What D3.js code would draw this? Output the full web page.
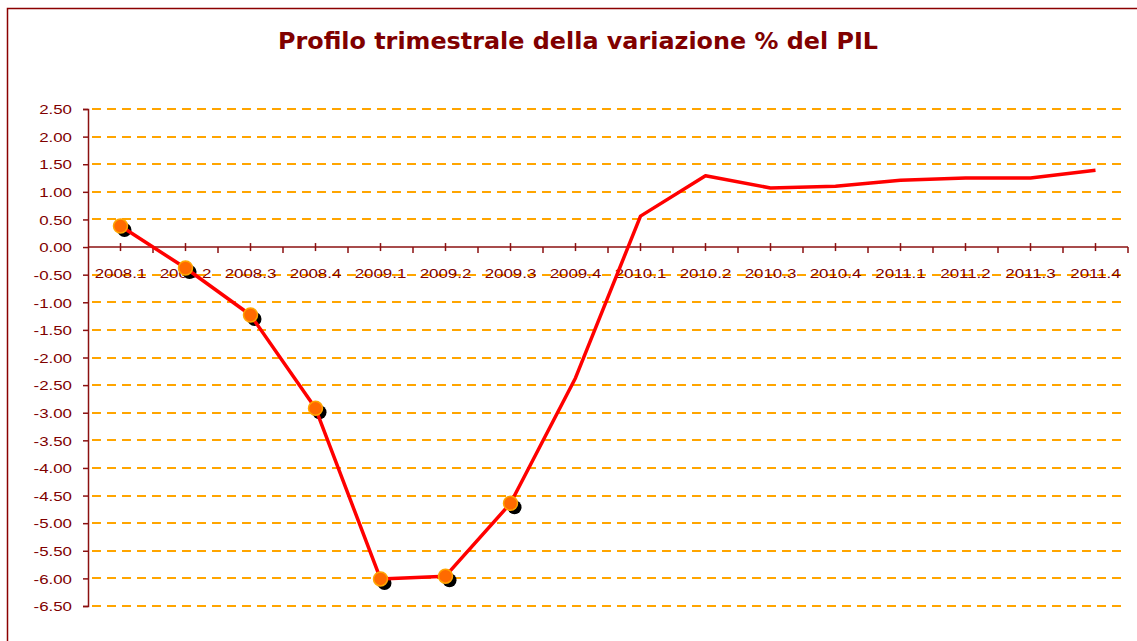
<!DOCTYPE html>
<html>
<head>
<meta charset="utf-8">
<script src="https://cdn.jsdelivr.net/npm/d3@7"></script>
<style>
  body { margin: 0; background: #fff; }
  svg { display: block; }
</style>
</head>
<body>
<div id="chart"></div>
<script>
// quarters and % GDP change
var quarters = ["2008.1", "2008.2", "2008.3", "2008.4", "2009.1", "2009.2", "2009.3", "2009.4",
    "2010.1", "2010.2", "2010.3", "2010.4", "2011.1", "2011.2", "2011.3", "2011.4"];
var pilValues = [0.38, -0.38, -1.23, -2.92, -6.01, -5.96, -4.64, -2.37,
    0.56, 1.29, 1.07, 1.10, 1.21, 1.25, 1.25, 1.39];
// quarters with a marker (observed data)
var markedQuarters = ["2008.1", "2008.2", "2008.3", "2008.4", "2009.1", "2009.2", "2009.3"];
var yTicks = [2.5, 2, 1.5, 1, 0.5, 0, -0.5, -1, -1.5, -2, -2.5, -3, -3.5, -4, -4.5, -5, -5.5, -6, -6.5];

var svgWidth = 1137;
var svgHeight = 641;
var darkRed = "#8b1010";

var svg = d3.select("#chart")
    .append("svg")
    .attr("width", svgWidth)
    .attr("height", svgHeight);

// outer frame (runs off the right and bottom edges)
svg.append("rect")
    .attr("x", 7.5)
    .attr("y", 8.5)
    .attr("width", 1150)
    .attr("height", 650)
    .attr("fill", "none")
    .attr("stroke", "#8b0000")
    .attr("stroke-width", 1.5);

svg.append("text")
    .attr("x", 578)
    .attr("y", 49)
    .attr("text-anchor", "middle")
    .attr("font-family", "DejaVu Sans, Verdana, sans-serif")
    .attr("font-weight", "bold")
    .attr("font-size", "23px")
    .attr("textLength", 600)
    .attr("lengthAdjust", "spacingAndGlyphs")
    .attr("fill", "#800000")
    .text("Profilo trimestrale della variazione % del PIL");

var data = quarters.map(function (q, i) {
    return { q: q, v: pilValues[i] };
});

var x = d3.scaleBand()
    .domain(quarters)
    .range([88, 1128])
    .padding(0);

var y = d3.scaleLinear()
    .domain([-6.5, 2.5])
    .range([606, 109]);

function cx(d) { return x(d.q) + x.bandwidth() / 2; }

// dashed orange gridlines, on whole pixels
svg.append("g")
    .selectAll("line")
    .data(yTicks.filter(function (t) { return t !== 0; }))
    .enter()
    .append("line")
    .attr("x1", 92)
    .attr("x2", 1126)
    .attr("y1", function (d) { return Math.round(y(d)); })
    .attr("y2", function (d) { return Math.round(y(d)); })
    .attr("stroke", "#ffa500")
    .attr("stroke-width", 2)
    .attr("stroke-dasharray", "9,6");

// y axis
var leftAxis = d3.axisLeft(y)
    .tickValues(yTicks)
    .tickSize(5)
    .tickFormat(function (d) { return d.toFixed(2); });

var yAxis = svg.append("g")
    .attr("transform", "translate(88,0)")
    .call(leftAxis);
yAxis.select(".domain").attr("stroke", darkRed).attr("stroke-width", 1.5);
yAxis.selectAll(".tick line").attr("stroke", darkRed).attr("stroke-width", 1.5);
yAxis.selectAll(".tick text")
    .attr("x", 0)
    .attr("dy", "0.35em")
    .attr("transform", "translate(-16,0) scale(1.25,1)")
    .attr("font-family", "Liberation Sans, Arial, sans-serif")
    .attr("font-size", "13.5px")
    .attr("fill", "#800000");

// x axis at zero
var xAxisG = svg.append("g")
    .attr("transform", "translate(0," + y(0) + ")");
xAxisG.append("line")
    .attr("x1", 88)
    .attr("x2", 1128)
    .attr("stroke", darkRed)
    .attr("stroke-width", 1.5);

// ticks on the category boundaries (below the axis)
xAxisG.selectAll(".btick")
    .data(quarters)
    .enter()
    .append("line")
    .attr("class", "btick")
    .attr("x1", function (d) { return x(d) + x.bandwidth(); })
    .attr("x2", function (d) { return x(d) + x.bandwidth(); })
    .attr("y1", 0)
    .attr("y2", 6)
    .attr("stroke", darkRed)
    .attr("stroke-width", 1.5);

// ticks on the category centres (crossing the axis)
xAxisG.selectAll(".ctick")
    .data(data)
    .enter()
    .append("line")
    .attr("class", "ctick")
    .attr("x1", cx)
    .attr("x2", cx)
    .attr("y1", -4)
    .attr("y2", 4)
    .attr("stroke", darkRed)
    .attr("stroke-width", 1.5);

xAxisG.selectAll(".xlabel")
    .data(data)
    .enter()
    .append("text")
    .attr("class", "xlabel")
    .attr("transform", function (d) { return "translate(" + cx(d) + ",31) scale(1.25,1)"; })
    .attr("text-anchor", "middle")
    .attr("font-family", "Liberation Sans, Arial, sans-serif")
    .attr("font-size", "13.5px")
    .attr("fill", "#800000")
    .text(function (d) { return d.q; });

var marked = data.filter(function (d) { return markedQuarters.indexOf(d.q) >= 0; });

// marker shadows
svg.append("g")
    .selectAll("circle")
    .data(marked)
    .enter()
    .append("circle")
    .attr("cx", function (d) { return cx(d) + 4; })
    .attr("cy", function (d) { return y(d.v) + 4; })
    .attr("r", 7)
    .attr("fill", "#000");

var line = d3.line()
    .x(cx)
    .y(function (d) { return y(d.v); });

svg.append("path")
    .datum(data)
    .attr("d", line)
    .attr("fill", "none")
    .attr("stroke", "#ff0000")
    .attr("stroke-width", 3.5)
    .attr("stroke-linejoin", "round");

svg.append("g")
    .selectAll("circle")
    .data(marked)
    .enter()
    .append("circle")
    .attr("cx", cx)
    .attr("cy", function (d) { return y(d.v); })
    .attr("r", 7)
    .attr("fill", "#ff6a00")
    .attr("stroke", "#ffa500")
    .attr("stroke-width", 1.5);
</script>
</body>
</html>
